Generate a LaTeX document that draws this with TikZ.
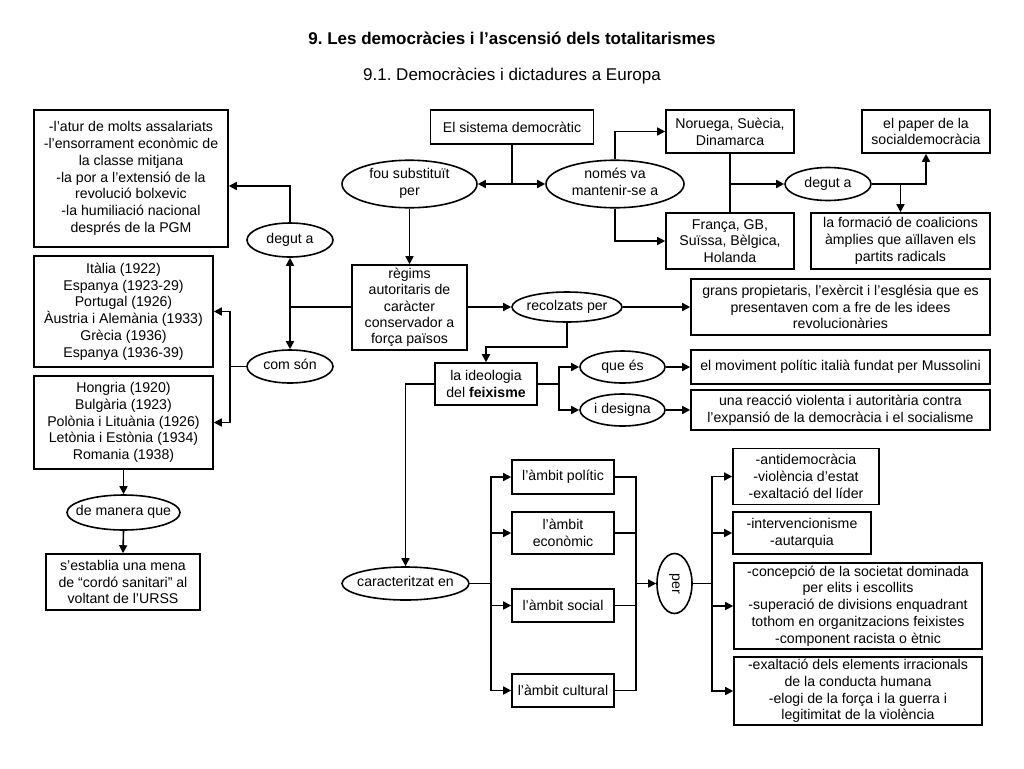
\documentclass[tikz,border=0pt]{standalone}
\usepackage{fontspec}
\setmainfont{Liberation Sans}
\usepackage{graphicx}
\usetikzlibrary{arrows.meta,shapes.geometric,calc}
\newcommand\ovtxt[1]{\makebox[0pt]{\begin{tabular}{@{}c@{}}#1\end{tabular}}}
\frenchspacing
\begin{document}
\frenchspacing
\begin{tikzpicture}[x=0.75pt,y=-0.75pt,
  base/.style={font=\fontsize{10.6}{12.6}\selectfont, line width=1.2pt},
  box/.style={base, draw, rectangle, inner sep=0pt, align=center},
  oval/.style={base, draw, ellipse, inner sep=0pt},
  arr/.style={line width=1.2pt, -{Triangle[length=6pt,width=6pt]}},
  ln/.style={line width=1.2pt},
  ttl/.style={font=\fontsize{12.75}{15}\selectfont}]
\fill[white] (0,0) rectangle (1024,768);
\useasboundingbox (0,0) rectangle (1024,768);

% titles
\node[ttl, font=\fontsize{12.75}{15}\selectfont\bfseries] (title) at (512,38) {9. Les democràcies i l’ascensió dels totalitarismes};
\node[ttl] (subtitle) at (512,76) {9.1. Democràcies i dictadures a Europa};

% left column
\node[box, minimum width=145.5pt, minimum height=102.75pt] (causes) at (131,178.5)
  {-l’atur de molts assalariats\\-l’ensorrament econòmic de\\la classe mitjana\\-la por a l’extensió de la\\revolució bolxevic\\-la humiliació nacional\\després de la PGM};
\node[box, minimum width=134.25pt, minimum height=83.25pt] (italia) at (123.5,311.5)
  {Itàlia (1922)\\Espanya (1923-29)\\Portugal (1926)\\Àustria i Alemània (1933)\\Grècia (1936)\\Espanya (1936-39)};
\node[box, minimum width=134.25pt, minimum height=69.75pt] (hongria) at (123.5,422.5)
  {Hongria (1920)\\Bulgària (1923)\\Polònia i Lituània (1926)\\Letònia i Estònia (1934)\\Romania (1938)};
\node[oval, minimum width=84.75pt, minimum height=26.25pt] (manera) at (123.5,512.5) {\ovtxt{de manera que}};
\node[box, minimum width=115.5pt, minimum height=42pt] (establia) at (123,582)
  {s’establia una mena\\de “cordó sanitari” al\\voltant de l’URSS};
\node[oval, minimum width=64.5pt, minimum height=25.5pt] (deguta1) at (290,240) {\ovtxt{degut a}};
\node[oval, minimum width=64.5pt, minimum height=24.75pt] (comson) at (290,366.5) {\ovtxt{com són}};

% top centre
\node[box, minimum width=122.25pt, minimum height=25.5pt] (sistema) at (512,127) {El sistema democràtic};
\node[oval, minimum width=101.25pt, minimum height=33pt] (fou) at (409.5,184) {\ovtxt{fou substituït\\per}};
\node[oval, minimum width=103.5pt, minimum height=33pt] (nomes) at (615,184) {\ovtxt{només va\\mantenir-se a}};
\node[box, minimum width=96pt, minimum height=32.25pt] (noruega) at (730,131.5) {Noruega, Suècia,\\Dinamarca};
\node[box, minimum width=96pt, minimum height=42pt] (franca) at (730,241) {França, GB,\\Suïssa, Bèlgica,\\Holanda};
\node[oval, minimum width=64.5pt, minimum height=24.75pt] (deguta2) at (828,184) {\ovtxt{degut a}};
\node[box, minimum width=96pt, minimum height=32.25pt] (paper) at (926,131.5) {el paper de la\\socialdemocràcia};
\node[box, minimum width=134.25pt, minimum height=42pt] (formacio) at (900.5,241)
  {la formació de coalicions\\àmplies que aïllaven els\\partits radicals};

% middle
\node[box, minimum width=86.25pt, minimum height=63.75pt, font=\fontsize{10.6}{12.2}\selectfont] (regims) at (409.5,307.5)
  {règims\\autoritaris de\\caràcter\\conservador a\\força països};
\node[oval, minimum width=82.5pt, minimum height=22.5pt] (recolzats) at (567,307) {\ovtxt{recolzats per}};
\node[box, minimum width=224.25pt, minimum height=42pt] (grans) at (840.5,307)
  {grans propietaris, l’exèrcit i l’església que es\\presentaven com a fre de les idees\\revolucionàries};
\node[box, minimum width=76.5pt, minimum height=31.5pt] (ideologia) at (486,384) {la ideologia\\del \textbf{feixisme}};
\node[oval, minimum width=63.75pt, minimum height=24pt] (quees) at (622.5,367) {\ovtxt{que és}};
\node[oval, minimum width=63.75pt, minimum height=24pt] (designa) at (622.5,410) {\ovtxt{i designa}};
\node[box, minimum width=224.25pt, minimum height=25.5pt] (moviment) at (840.5,367)
  {el moviment polític italià fundat per Mussolini};
\node[box, minimum width=224.25pt, minimum height=30pt] (reaccio) at (840.5,410)
  {una reacció violenta i autoritària contra\\l’expansió de la democràcia i el socialisme};

% bottom
\node[oval, minimum width=95.25pt, minimum height=24.75pt] (caract) at (405.5,583.5) {\ovtxt{caracteritzat en}};
\node[box, minimum width=76.5pt, minimum height=25.5pt] (politic) at (563,477) {l’àmbit polític};
\node[box, minimum width=76.5pt, minimum height=31.5pt] (economic) at (563,533) {l’àmbit\\econòmic};
\node[box, minimum width=76.5pt, minimum height=24.75pt] (social) at (563,605.5) {l’àmbit social};
\node[box, minimum width=76.5pt, minimum height=24.75pt] (cultural) at (563,690.5) {l’àmbit cultural};
\node[oval, minimum width=26.25pt, minimum height=45pt] (per) at (674.5,583.5) {\makebox[0pt]{\rotatebox{-90}{per}}};
\node[box, minimum width=109.5pt, minimum height=42pt] (anti) at (806,476.5)
  {-antidemocràcia\\-violència d’estat\\-exaltació del líder};
\node[box, minimum width=103.5pt, minimum height=31.5pt] (interv) at (802,533) {-intervencionisme\\-autarquia};
\node[box, minimum width=186pt, minimum height=64.5pt] (concepcio) at (858,606)
  {-concepció de la societat dominada\\per elits i escollits\\-superació de divisions enquadrant\\tothom en organitzacions feixistes\\-component racista o ètnic};
\node[box, minimum width=186pt, minimum height=51pt] (exaltacio) at (858,691)
  {-exaltació dels elements irracionals\\de la conducta humana\\-elogi de la força i la guerra i\\legitimitat de la violència};

% junctions
\coordinate (j1) at (sistema.south |- fou.east);
\coordinate (j2) at (deguta1.south |- 0,307);
\coordinate (j3) at (230,366.5);
\coordinate (j4) at (486,347);
\coordinate (j5) at (559,384);
\coordinate (j6) at (491,583.5);
\coordinate (j7) at (636,583.5);
\coordinate (j8) at (712,583.5);
\coordinate (j9) at (noruega.south |- deguta2.west);
\coordinate (j10) at (formacio.north |- deguta2.east);

% connectors top
\draw[ln] (sistema.south) -- (j1);
\draw[arr] (j1) -- (fou.east);
\draw[arr] (j1) -- (nomes.west);
\draw[arr] (fou.south) -- (fou.south |- regims.north);
\draw[arr] (nomes.north) |- (noruega.west);
\draw[arr] (nomes.south) |- (franca.west);
\draw[ln] (noruega.south) -- (franca.north);
\draw[arr] (j9) -- (deguta2.west);
\draw[arr] (deguta2.east) -| (paper.south);
\draw[arr] (j10) -- (formacio.north);

% connectors left
\draw[ln] (regims.west |- j2) -- (j2);
\draw[arr] (j2) -- (deguta1.south);
\draw[arr] (j2) -- (comson.north);
\draw[arr] (deguta1.north) |- ($(causes.east)+(0,7.5)$);
\draw[ln] (comson.west) -- (j3);
\draw[arr] (j3) |- (italia.east);
\draw[arr] (j3) |- (hongria.east);
\draw[arr] (hongria.south) -- (manera.north);
\draw[arr] (manera.south) -- (establia.north);

% connectors middle
\draw[arr] (regims.east |- recolzats.west) -- (recolzats.west);
\draw[arr] (recolzats.east) -- (grans.west);
\draw[arr] (recolzats.south) |- (j4) -- (ideologia.north);
\draw[ln] (ideologia.east) -- (j5);
\draw[arr] (j5) |- (quees.west);
\draw[arr] (j5) |- (designa.west);
\draw[arr] (quees.east) -- (moviment.west);
\draw[arr] (designa.east) -- (reaccio.west);
\draw[arr] (ideologia.west) -| (caract.north);

% connectors bottom
\draw[ln] (caract.east) -- (j6);
\draw[arr] (j6) |- (politic.west);
\draw[arr] (j6) |- (economic.west);
\draw[arr] (j6) |- (social.west);
\draw[arr] (j6) |- (cultural.west);
\draw[ln] (politic.east) -| (j7);
\draw[ln] (cultural.east) -| (j7);
\draw[ln] (economic.east) -- (economic.east -| j7);
\draw[ln] (social.east) -- (social.east -| j7);
\draw[arr] (j7) -- (per.west);
\draw[ln] (per.east) -- (j8);
\draw[arr] (j8) |- (anti.west);
\draw[arr] (j8) |- (interv.west);
\draw[arr] (j8) |- (concepcio.west);
\draw[arr] (j8) |- (exaltacio.west);
\end{tikzpicture}
\end{document}
